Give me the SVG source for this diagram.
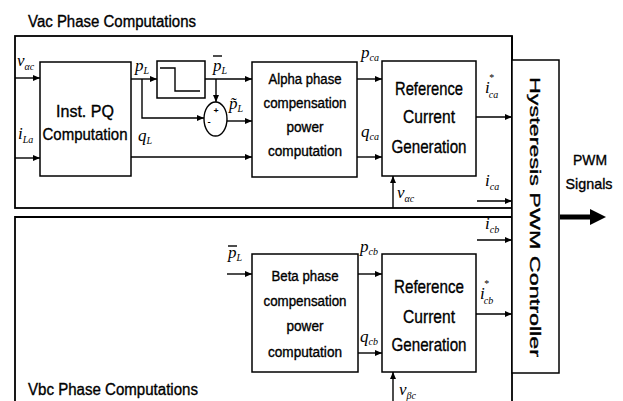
<svg xmlns="http://www.w3.org/2000/svg" width="623" height="401" viewBox="0 0 623 401">
<style>
.box{fill:#fff;stroke:#000;stroke-width:1.5}
.frame{fill:none;stroke:#000;stroke-width:1.8}
.ln{fill:none;stroke:#000;stroke-width:1.4}
.ar{fill:none;stroke:#000;stroke-width:1.4;marker-end:url(#ah)}
.t{font-family:"Liberation Sans",Arial,sans-serif;fill:#000;stroke:#000;stroke-width:0.35}
.m{font-family:"Liberation Serif","DejaVu Serif",serif;font-style:italic;font-size:17px;fill:#000}
.s{font-size:10px}
</style>
<defs>
<marker id="ah" markerUnits="userSpaceOnUse" markerWidth="8" markerHeight="6" refX="7" refY="3" orient="auto">
<path d="M0,0 L7,3 L0,6 z" fill="#000"/>
</marker>
</defs>
<rect width="623" height="401" fill="#fff"/>

<g id="frames">
<text class="t" x="28" y="27" font-size="16" textLength="168" lengthAdjust="spacingAndGlyphs">Vac Phase Computations</text>
<rect class="frame" x="15" y="36" width="497" height="172"/>
<path class="frame" d="M15,401 V217 H512"/>
<line class="frame" x1="512" y1="36" x2="512" y2="401"/>
<text class="t" x="28" y="395" font-size="16" textLength="170" lengthAdjust="spacingAndGlyphs">Vbc Phase Computations</text>
</g>

<g id="instpq">
<rect class="box" x="40" y="62" width="91" height="114"/>
<text class="t" x="85" y="117" font-size="17" text-anchor="middle" textLength="58" lengthAdjust="spacingAndGlyphs">Inst. PQ</text>
<text class="t" x="85" y="140" font-size="17" text-anchor="middle" textLength="85" lengthAdjust="spacingAndGlyphs">Computation</text>
</g>

<g id="lpf">
<rect class="box" x="157" y="61" width="48" height="37"/>
<polyline class="ln" points="160,68 175,68 175,91 200,91"/>
</g>

<g id="sum">
<ellipse cx="215.5" cy="119" rx="11.5" ry="17" fill="#fff" stroke="#000" stroke-width="1.4"/>
<text class="t" x="216" y="113" font-size="8" text-anchor="middle">+</text>
<text class="t" x="209" y="124" font-size="8" text-anchor="middle">-</text>
</g>

<g id="alpha">
<rect class="box" x="252" y="62" width="105" height="115"/>
<text class="t" x="305" y="84" font-size="14" text-anchor="middle" textLength="73" lengthAdjust="spacingAndGlyphs">Alpha phase</text>
<text class="t" x="305" y="108" font-size="14" text-anchor="middle" textLength="83" lengthAdjust="spacingAndGlyphs">compensation</text>
<text class="t" x="305" y="132" font-size="14" text-anchor="middle" textLength="37" lengthAdjust="spacingAndGlyphs">power</text>
<text class="t" x="305" y="156" font-size="14" text-anchor="middle" textLength="74" lengthAdjust="spacingAndGlyphs">computation</text>
</g>

<g id="refa">
<rect class="box" x="382" y="61" width="94" height="115"/>
<text class="t" x="429" y="95" font-size="19" text-anchor="middle" textLength="68" lengthAdjust="spacingAndGlyphs">Reference</text>
<text class="t" x="429" y="123" font-size="19" text-anchor="middle" textLength="52" lengthAdjust="spacingAndGlyphs">Current</text>
<text class="t" x="429" y="153" font-size="19" text-anchor="middle" textLength="75" lengthAdjust="spacingAndGlyphs">Generation</text>
</g>

<g id="beta">
<rect class="box" x="252" y="254" width="106" height="118"/>
<text class="t" x="305" y="281" font-size="14" text-anchor="middle" textLength="67" lengthAdjust="spacingAndGlyphs">Beta phase</text>
<text class="t" x="305" y="306" font-size="14" text-anchor="middle" textLength="83" lengthAdjust="spacingAndGlyphs">compensation</text>
<text class="t" x="305" y="331" font-size="14" text-anchor="middle" textLength="37" lengthAdjust="spacingAndGlyphs">power</text>
<text class="t" x="305" y="357" font-size="14" text-anchor="middle" textLength="74" lengthAdjust="spacingAndGlyphs">computation</text>
</g>

<g id="refb">
<rect class="box" x="382" y="254" width="94" height="118"/>
<text class="t" x="429" y="293" font-size="19" text-anchor="middle" textLength="70" lengthAdjust="spacingAndGlyphs">Reference</text>
<text class="t" x="429" y="323" font-size="19" text-anchor="middle" textLength="52" lengthAdjust="spacingAndGlyphs">Current</text>
<text class="t" x="429" y="351" font-size="19" text-anchor="middle" textLength="75" lengthAdjust="spacingAndGlyphs">Generation</text>
</g>

<g id="hysteresis">
<rect class="box" x="512" y="60" width="47" height="313"/>
<text class="t" transform="translate(530,217) rotate(90)" x="0" y="0" font-size="15" text-anchor="middle" textLength="280" lengthAdjust="spacingAndGlyphs">Hysteresis PWM Controller</text>
</g>

<g id="pwm">
<text class="t" x="590" y="165" font-size="15" text-anchor="middle" textLength="34" lengthAdjust="spacingAndGlyphs">PWM</text>
<text class="t" x="589" y="189" font-size="15" text-anchor="middle" textLength="47" lengthAdjust="spacingAndGlyphs">Signals</text>
<path d="M560,214.5 H590 V209 L606,217 L590,225 V219.5 H560 z" fill="#000"/>
</g>

<g id="connectors">
<line class="ar" x1="15" y1="78" x2="40" y2="78"/>
<line class="ar" x1="15" y1="158" x2="40" y2="158"/>
<line class="ar" x1="131" y1="79" x2="157" y2="79"/>
<polyline class="ar" points="142,79 142,118 204,118"/>
<line class="ar" x1="205" y1="79" x2="252" y2="79"/>
<line class="ar" x1="216" y1="79" x2="216" y2="102"/>
<line class="ar" x1="227" y1="121" x2="252" y2="121"/>
<line class="ar" x1="131" y1="157" x2="252" y2="157"/>
<line class="ar" x1="357" y1="79" x2="382" y2="79"/>
<line class="ar" x1="357" y1="157" x2="382" y2="157"/>
<line class="ar" x1="476" y1="117" x2="512" y2="117"/>
<line class="ar" x1="393" y1="208" x2="393" y2="176"/>
<line class="ar" x1="477" y1="201" x2="512" y2="201"/>
<line class="ar" x1="477" y1="240" x2="512" y2="240"/>
<line class="ar" x1="227" y1="274" x2="252" y2="274"/>
<line class="ar" x1="358" y1="274" x2="382" y2="274"/>
<line class="ar" x1="358" y1="353" x2="382" y2="353"/>
<line class="ar" x1="476" y1="314" x2="512" y2="314"/>
<line class="ar" x1="393" y1="401" x2="393" y2="372"/>
</g>

<g id="labels">
<text class="m" x="17" y="66">v<tspan class="s" dy="4">αc</tspan></text>
<text class="m" x="18" y="139">i<tspan class="s" dy="4">La</tspan></text>
<text class="m" x="135" y="71">p<tspan class="s" dy="3">L</tspan></text>
<text class="m" x="138" y="141">q<tspan class="s" dy="3">L</tspan></text>
<text class="m" x="213" y="71">p<tspan class="s" dy="3">L</tspan></text>
<line class="ln" x1="213" y1="56" x2="222" y2="56"/>
<text class="m" x="229" y="109">p̃<tspan class="s" dy="3">L</tspan></text>
<text class="m" x="361" y="58">p<tspan class="s" dy="3">ca</tspan></text>
<text class="m" x="361" y="137">q<tspan class="s" dy="3">ca</tspan></text>
<text class="m" x="485" y="93">i<tspan class="s" dx="-1" dy="-12">*</tspan><tspan class="s" dx="-5" dy="17">ca</tspan></text>
<text class="m" x="485" y="186">i<tspan class="s" dy="4">ca</tspan></text>
<text class="m" x="397" y="198">v<tspan class="s" dy="4">αc</tspan></text>
<text class="m" x="485" y="229">i<tspan class="s" dy="4">cb</tspan></text>
<text class="m" x="228" y="258">p<tspan class="s" dy="3">L</tspan></text>
<line class="ln" x1="228" y1="246" x2="237" y2="246"/>
<text class="m" x="360" y="252">p<tspan class="s" dy="3">cb</tspan></text>
<text class="m" x="360" y="342">q<tspan class="s" dy="3">cb</tspan></text>
<text class="m" x="480" y="299">i<tspan class="s" dx="-1" dy="-12">*</tspan><tspan class="s" dx="-5" dy="17">cb</tspan></text>
<text class="m" x="399" y="395">v<tspan class="s" dy="4">βc</tspan></text>
</g>
</svg>
